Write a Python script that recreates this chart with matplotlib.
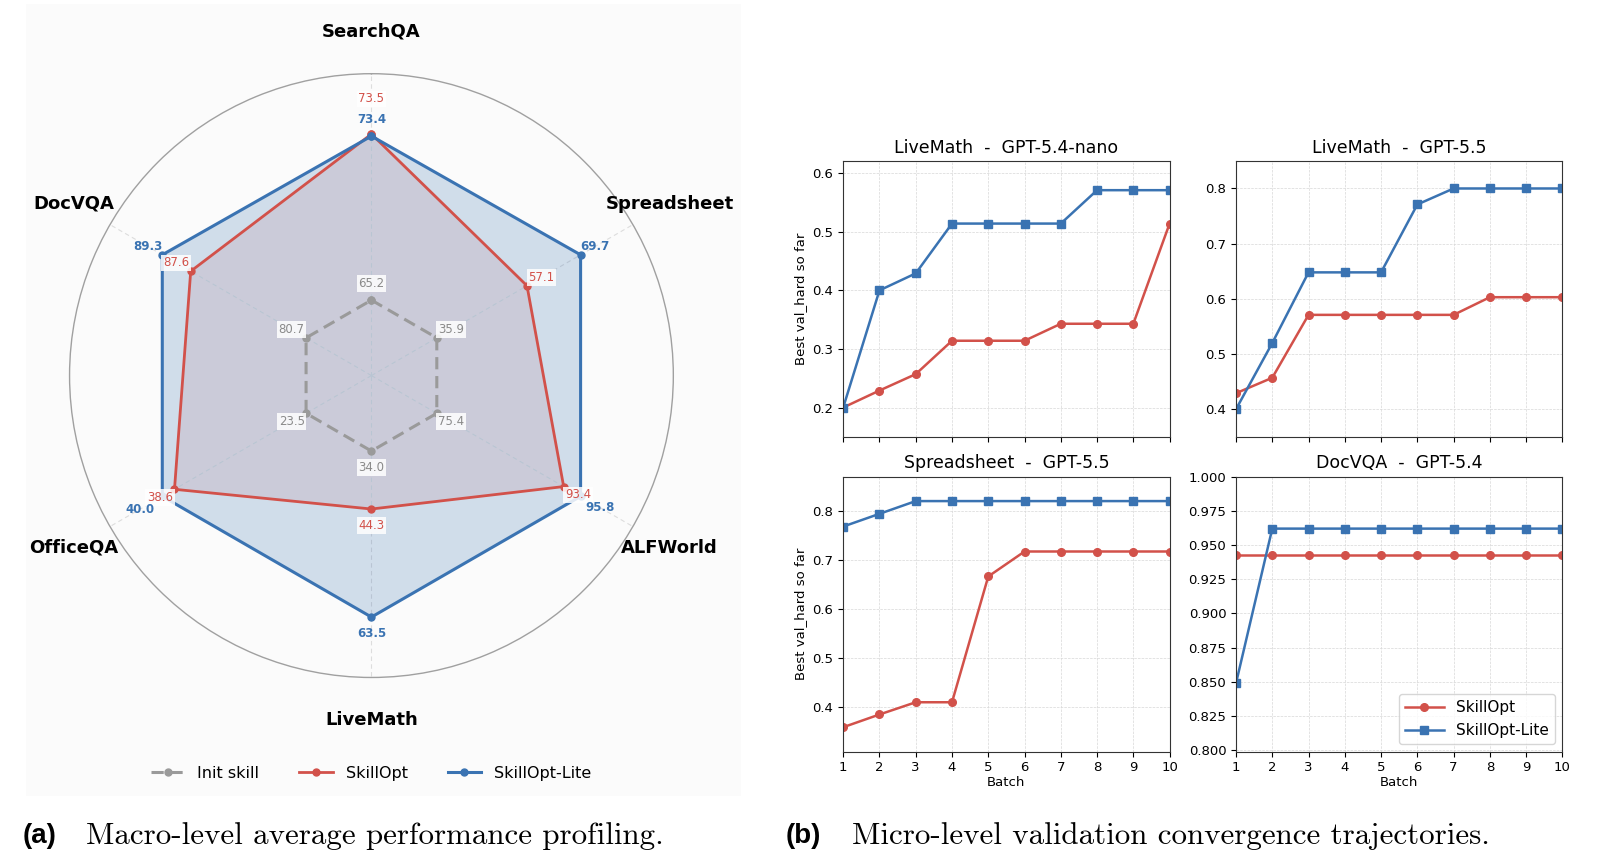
import numpy as np
import matplotlib
matplotlib.use("Agg")
import matplotlib.pyplot as plt
from matplotlib.patches import Rectangle

# ---- radar data (macro-level averages) ----
tasks = ["SearchQA", "Spreadsheet", "ALFWorld", "LiveMath", "OfficeQA", "DocVQA"]
init_skill = [65.2, 35.9, 75.4, 34.0, 23.5, 80.7]
skillopt = [73.5, 57.1, 93.4, 44.3, 38.6, 87.6]
skillopt_lite = [73.4, 69.7, 95.8, 63.5, 40.0, 89.3]

# ---- convergence data (best val_hard so far) ----
batches = list(range(1, 11))
panel_titles = ["LiveMath  -  GPT-5.4-nano", "LiveMath  -  GPT-5.5",
                "Spreadsheet  -  GPT-5.5", "DocVQA  -  GPT-5.4"]
opt_curves = [
    [0.200, 0.229, 0.257, 0.314, 0.314, 0.314, 0.343, 0.343, 0.343, 0.514],
    [0.429, 0.457, 0.571, 0.571, 0.571, 0.571, 0.571, 0.603, 0.603, 0.603],
    [0.359, 0.385, 0.410, 0.410, 0.667, 0.718, 0.718, 0.718, 0.718, 0.718],
    [0.943, 0.943, 0.943, 0.943, 0.943, 0.943, 0.943, 0.943, 0.943, 0.943],
]
lite_curves = [
    [0.200, 0.400, 0.429, 0.514, 0.514, 0.514, 0.514, 0.571, 0.571, 0.571],
    [0.400, 0.520, 0.648, 0.648, 0.648, 0.771, 0.800, 0.800, 0.800, 0.800],
    [0.769, 0.795, 0.821, 0.821, 0.821, 0.821, 0.821, 0.821, 0.821, 0.821],
    [0.849, 0.962, 0.962, 0.962, 0.962, 0.962, 0.962, 0.962, 0.962, 0.962],
]

RED = "#d2514a"
BLUE = "#3a73b2"
GRAY = "#9a9a9a"

fig = plt.figure(figsize=(16, 8.65), dpi=100)
fig.patches.append(Rectangle((0.016, 0.08), 0.447, 0.915, transform=fig.transFigure,
                             facecolor="#fbfbfb", edgecolor="none", zorder=-10))

# ================= (a) radar =================
ax = fig.add_axes([0.0434, 0.2168, 0.3775, 0.698], projection="polar")
ax.set_theta_offset(np.pi / 2)
ax.set_theta_direction(-1)
ax.set_facecolor("none")

n = len(tasks)
angles = np.linspace(0, 2 * np.pi, n, endpoint=False)

init_a = np.array(init_skill)
opt_a = np.array(skillopt)
lite_a = np.array(skillopt_lite)
best = np.maximum(opt_a, lite_a)
r_in, r_span = 0.25, 0.55
r_init = np.full(n, r_in)
r_opt = r_in + r_span * (opt_a - init_a) / (best - init_a)
r_lite = r_in + r_span * (lite_a - init_a) / (best - init_a)

ang_c = np.append(angles, angles[0])
def closed(r):
    return np.append(r, r[0])

ax.fill(ang_c, closed(r_opt), color=RED, alpha=0.13, lw=0, zorder=1)
ax.fill(ang_c, closed(r_lite), color=BLUE, alpha=0.22, lw=0, zorder=2)
ax.plot(ang_c, closed(r_init), color=GRAY, lw=2.2, ls=(0, (4, 2.2)), marker="o",
        ms=5, zorder=3, label="Init skill")
ax.plot(ang_c, closed(r_opt), color=RED, lw=2.0, marker="o", ms=5, zorder=4,
        label="SkillOpt")
ax.plot(ang_c, closed(r_lite), color=BLUE, lw=2.2, marker="o", ms=5, zorder=5,
        label="SkillOpt-Lite")

ax.set_ylim(0, 1.0)
ax.set_yticks([])
ax.set_xticks(angles)
ax.set_xticklabels([])
ax.xaxis.grid(True, color="#dddddd", ls=(0, (4, 3)), lw=0.8)
ax.spines["polar"].set_color("#a0a0a0")
ax.spines["polar"].set_linewidth(1.0)

for a, name in zip(angles, tasks):
    ax.text(a, 1.14, name, ha="center", va="center", fontsize=13,
            fontweight="bold", clip_on=False)

def put_label(a, r, val, color, push, **kw):
    dist = 12 + push
    dx, dy = dist * np.sin(a), dist * np.cos(a)
    ax.annotate(f"{val:.1f}", xy=(a, r), xytext=(dx, dy), textcoords="offset points",
                ha="center", va="center", color=color, fontsize=8.5, zorder=6, **kw)

box = dict(boxstyle="square,pad=0.15", fc="white", ec="none", alpha=0.85)
for i, a in enumerate(angles):
    gap = abs(r_lite[i] - r_opt[i])
    push = max(0.0, (0.09 - gap) * 160)
    put_label(a, r_init[i], init_skill[i], "#8a8a8a", 0, bbox=box)
    put_label(a, r_opt[i], skillopt[i], RED, push if r_opt[i] > r_lite[i] else 0, bbox=box)
    put_label(a, r_lite[i], skillopt_lite[i], BLUE, push if r_lite[i] >= r_opt[i] else 0,
              fontweight="bold")

handles, labels = ax.get_legend_handles_labels()
fig.legend(handles, labels, loc="center", bbox_to_anchor=(0.232, 0.106), ncol=3,
           frameon=False, fontsize=11.5, handlelength=2.1, columnspacing=2.5)

# ================= (b) convergence =================
positions = [[0.527, 0.495, 0.204, 0.319], [0.7725, 0.495, 0.204, 0.319],
             [0.527, 0.131, 0.204, 0.318], [0.7725, 0.131, 0.204, 0.318]]
for k in range(4):
    bx = fig.add_axes(positions[k])
    bx.plot(batches, opt_curves[k], color=RED, lw=1.8, marker="o", ms=5.5, label="SkillOpt")
    bx.plot(batches, lite_curves[k], color=BLUE, lw=1.8, marker="s", ms=5.5,
            label="SkillOpt-Lite")
    lo = min(min(opt_curves[k]), min(lite_curves[k]))
    hi = max(max(opt_curves[k]), max(lite_curves[k]))
    bx.set_ylim(max(0.0, lo - 0.05), min(1.0, hi + 0.05))
    bx.set_xlim(1, 10)
    bx.set_xticks(batches)
    bx.grid(True, ls="--", lw=0.5, color="#d8d8d8")
    bx.set_title(panel_titles[k], fontsize=12.5, pad=6)
    bx.tick_params(labelsize=9.5)
    for s in bx.spines.values():
        s.set_color("#333333")
    if k < 2:
        bx.set_xticklabels([])
    else:
        bx.set_xlabel("Batch", fontsize=9.5, labelpad=1)
    if k % 2 == 0:
        bx.set_ylabel("Best val_hard so far", fontsize=9.5)
    if k == 3:
        bx.legend(loc="lower right", fontsize=11, handlelength=2.5)

# ---- captions ----
fig.text(0.014, 0.034, "(a)", fontsize=20, fontweight="bold", family="Liberation Sans",
         va="center")
fig.text(0.054, 0.034, "Macro-level average performance profiling.", fontsize=22.3,
         family="cmr10", va="center")
fig.text(0.491, 0.034, "(b)", fontsize=20, fontweight="bold", family="Liberation Sans",
         va="center")
fig.text(0.5325, 0.034, "Micro-level validation convergence trajectories.", fontsize=22.3,
         family="cmr10", va="center")

fig.savefig("out.png", dpi=100)
